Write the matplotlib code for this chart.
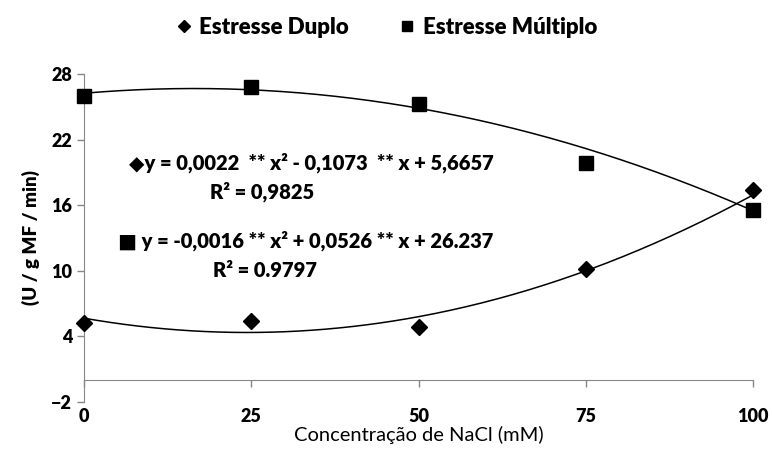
import numpy as np
import matplotlib.pyplot as plt

# data
nacl = [0, 25, 50, 75, 100]
duplo = [5.2, 5.4, 4.9, 10.2, 17.4]
multiplo = [26.0, 26.8, 25.3, 19.9, 15.6]

# trend line coefficients (as printed on the chart)
coef_duplo = [0.0022, -0.1073, 5.6657]
coef_multiplo = [-0.0016, 0.0526, 26.237]

xticks = [0, 25, 50, 75, 100]
yticks = [-2, 4, 10, 16, 22, 28]

plt.rcParams['font.family'] = ['Lato', 'DejaVu Sans']
axis_grey = '#868686'

fig = plt.figure(figsize=(7.72, 4.5), dpi=100)
ax = fig.add_axes([0.1088, 0.1067, 0.8666, 0.7289])

xs = np.linspace(0, 100, 300)
ax.plot(xs, np.polyval(coef_duplo, xs), color='black', lw=1.1)
ax.plot(xs, np.polyval(coef_multiplo, xs), color='black', lw=1.1)
ax.plot(nacl, duplo, linestyle='none', marker='D', ms=8.5, color='black',
        label='Estresse Duplo', clip_on=False, zorder=5)
ax.plot(nacl, multiplo, linestyle='none', marker='s', ms=10, color='black',
        label='Estresse Múltiplo', clip_on=False, zorder=5)

ax.set_xlim(0, 100)
ax.set_ylim(-2, 28)
ax.set_xticks(xticks)
ax.set_yticks(yticks)

for s in ['top', 'right']:
    ax.spines[s].set_visible(False)
ax.spines['left'].set_color(axis_grey)
ax.spines['bottom'].set_color(axis_grey)
ax.spines['bottom'].set_position(('data', 0))
ax.tick_params(axis='both', colors=axis_grey, direction='out', length=5, width=1,
               labelcolor='black', labelsize=13)
ax.tick_params(axis='x', pad=15)
for lab in ax.get_xticklabels() + ax.get_yticklabels():
    lab.set_fontweight('heavy')

ax.set_xlabel('Concentração de NaCl (mM)', fontsize=14.5, labelpad=1)
ax.set_ylabel('(U / g MF / min)', fontsize=13.5, fontweight='heavy', labelpad=8)

eq_kw = dict(transform=ax.transAxes, ha='center', va='center', fontsize=14.5,
             fontweight='heavy')
ax.text(0.34, 0.729, '\u25c6y = 0,0022  ** x\u00b2 - 0,1073  ** x + 5,6657', **eq_kw)
ax.text(0.266, 0.64, 'R\u00b2 = 0,9825', **eq_kw)
ax.text(0.332, 0.491, '\u25a0 y = -0,0016 ** x\u00b2 + 0,0526 ** x + 26.237', **eq_kw)
ax.text(0.27, 0.402, 'R\u00b2 = 0.9797', **eq_kw)

fig.legend(loc='center', bbox_to_anchor=(0.5, 0.94), ncol=2, frameon=False,
           prop={'size': 16, 'weight': 'heavy'}, markerscale=0.75,
           handlelength=0.8, handletextpad=0.3, columnspacing=2.2)

fig.savefig('out.png', dpi=100)
